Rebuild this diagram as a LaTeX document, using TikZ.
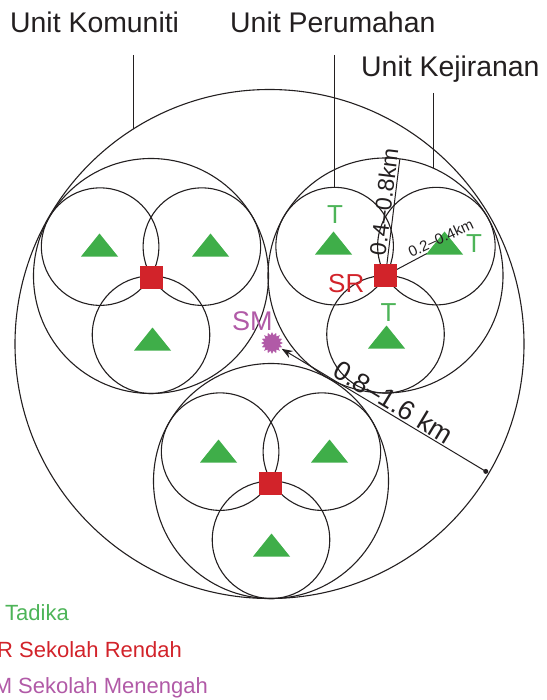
\documentclass[tikz,border=0pt]{standalone}
\usepackage{fontspec}
\setmainfont{Liberation Sans}
\usetikzlibrary{shapes.geometric,arrows.meta,calc}
\definecolor{tgreen}{HTML}{3FAE49}
\definecolor{tgreenT}{HTML}{4DB458}
\definecolor{sred}{HTML}{D2232A}
\definecolor{smpurple}{HTML}{B15AA7}
\definecolor{ink}{HTML}{231F20}
\tikzset{
  tri/.pic={\fill[tgreen] (-18.5,11.5) -- (18.5,11.5) -- (0,-11.5) -- cycle;},
}
\begin{document}
\begin{tikzpicture}[x=1pt,y=-1pt,
  ring/.style={draw=ink, line width=1.1pt},
  lead/.style={draw=ink, line width=1pt},
  dimline/.style={draw=ink, line width=1pt},
  unitlbl/.style={inner sep=0pt, anchor=base west, text=ink, font=\fontsize{28.4}{30}\selectfont},
  tlbl/.style={inner sep=0pt, anchor=base, text=tgreenT, font=\fontsize{26}{28}\selectfont},
  legendlbl/.style={inner sep=0pt, anchor=base west, font=\fontsize{22}{24}\selectfont},
  school/.style={rectangle, fill=sred, minimum size=23pt, inner sep=0pt},
  dimlbl/.style={inner sep=2pt, anchor=south, text=ink},
]
\useasboundingbox (0,0) rectangle (546,700);
\clip (0,0) rectangle (546,700);

% centres
\coordinate (bc) at (269.5,344);
\coordinate (L) at (151,276);
\coordinate (R) at (385.5,275.5);
\coordinate (B) at (271,481);

% circles
\draw[ring] (bc) circle (254.5pt);
\foreach \c in {L,R,B}{
  \draw[ring] (\c) circle (117.5pt);
  \draw[ring] ($(\c)+(150:58.75pt)$) circle (58.75pt);
  \draw[ring] ($(\c)+(30:58.75pt)$) circle (58.75pt);
  \draw[ring] ($(\c)+(-90:58.75pt)$) circle (58.75pt);
}

% unit labels and leader lines
\node[unitlbl] (labK) at (10,33) {Unit Komuniti};
\node[unitlbl] (labP) at (230,33) {Unit Perumahan};
\node[unitlbl] (labJ) at (361,77) {Unit Kejiranan};
\coordinate (kA) at (133,55);
\coordinate (kB) at (133,129.2);
\draw[lead] (kA) -- (kB);
\coordinate (pB) at ($(R)+(150:58.75pt)+(0,-58.75)$);
\coordinate (pA) at (pB |- kA);
\draw[lead] (pA) -- (pB);
\coordinate (jA) at (433,93);
\coordinate (jB) at (433,168);
\draw[lead] (jA) -- (jB);

% squares (positions)
\coordinate (sqLc) at (151.5,277.5);
\coordinate (sqRc) at (385.5,275.5);
\coordinate (sqBc) at (270.5,483.5);

% dimension lines in right cluster
\coordinate (d1end) at ($(sqRc)+(83:117pt)$);
\draw[dimline] (sqRc) -- (d1end);
\node[dimlbl, rotate=83, font=\fontsize{23}{25}\selectfont] (d1lab) at ($(sqRc)+(83:73pt)$) {0.4–0.8km};
\coordinate (d2end) at ($(sqRc)+(28:47pt)$);
\draw[dimline] (sqRc) -- (d2end);

% triangles
\foreach \s in {sqLc,sqRc,sqBc}{
  \pic at ($(\s)+(-52,-32.5)$) {tri};
  \pic at ($(\s)+(59,-32.5)$) {tri};
  \pic at ($(\s)+(1,61.5)$) {tri};
}
\node[dimlbl, inner sep=1.5pt, rotate=25, font=\fontsize{15}{17}\selectfont] (d2lab) at ($(sqRc)+(28:66pt)$) {0.2–0.4km};

% schools
\node[school] (sqL) at (sqLc) {};
\node[school] (sqR) at (sqRc) {};
\node[school] (sqB) at (sqBc) {};

% T labels
\node[tlbl] (t1) at (335,224) {T};
\node[tlbl] (t2) at (474,252) {T};
\node[tlbl] (t3) at (388.5,321) {T};
\node[inner sep=0pt, anchor=base west, text=sred, font=\fontsize{26}{28}\selectfont] (srlab) at (328,292) {SR};

% secondary school
\node[star, star points=16, star point ratio=1.4, fill=smpurple, minimum size=22pt, inner sep=0pt] (smstar) at (272,343) {};
\node[inner sep=0pt, anchor=base west, text=smpurple, font=\fontsize{27}{29}\selectfont] (smlab) at (232,330) {SM};
\node[circle, fill=ink, inner sep=0pt, minimum size=5pt] (dimdot) at ($(bc)+(-30.5:251pt)$) {};
\draw[dimline, -{Stealth[length=11pt,width=8pt]}, shorten >=2.5pt] (dimdot.center) -- (smstar);
\node[dimlbl, rotate=-31, font=\fontsize{27}{29}\selectfont] (d3lab) at ($(smstar.center)!0.54!(dimdot.center)$) {0.8–1.6 km};

% legend
\node[legendlbl, text=tgreenT] (leg1) at (-14.6,620) {T Tadika};
\node[legendlbl, text=sred] (leg2) at (-17.7,657) {SR Sekolah Rendah};
\node[legendlbl, text=smpurple] (leg3) at (-21.1,693) {SM Sekolah Menengah};
\end{tikzpicture}
\end{document}
